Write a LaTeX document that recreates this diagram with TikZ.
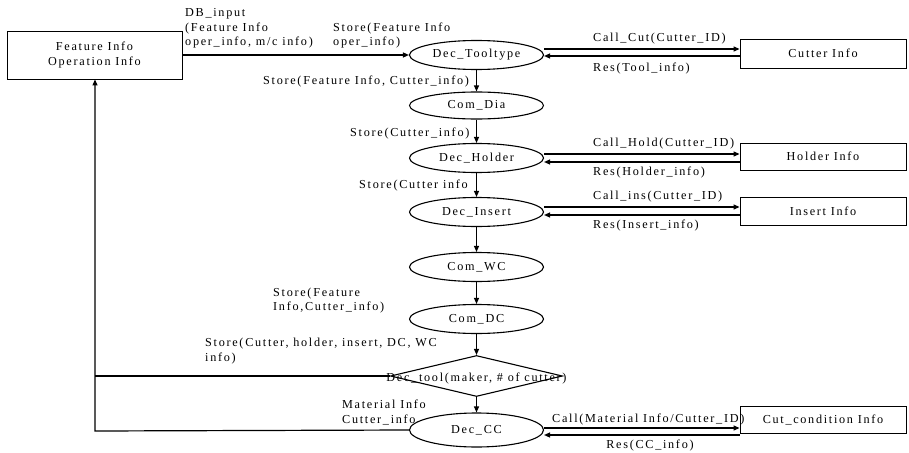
\documentclass[tikz,border=0pt]{standalone}
\usepackage{fontspec}
\setmainfont[LetterSpace=14]{Liberation Serif}
\usetikzlibrary{shapes.geometric,arrows.meta}
\begin{document}
\begin{tikzpicture}[x=1pt,y=-1pt,
  every node/.style={font=\fontsize{12.2}{14.5}\selectfont, inner sep=0pt},
  proc/.style={ellipse, draw, line width=1.1pt, minimum width=134pt, minimum height=29pt},
  store/.style={rectangle, draw, line width=0.9pt},
  flow/.style={line width=1.2pt, -{Triangle[length=6pt,width=5pt]}},
  lbl/.style={anchor=west, align=left}]
\useasboundingbox (0,0) rectangle (909,452);
% data stores
\node[store, minimum width=175pt, minimum height=48pt] (fi) at (94.5,55) {};
\node[align=center] at (fi) {Feature Info\\Operation Info};
\node[store, minimum width=166pt, minimum height=29pt] (ci) at (823,53.5) {};
\node at (ci) {Cutter Info};
\node[store, minimum width=166pt, minimum height=27pt] (hi) at (823,156.5) {};
\node at (hi) {Holder Info};
\node[store, minimum width=166pt, minimum height=28pt] (ii) at (823,211) {};
\node at (ii) {Insert Info};
\node[store, minimum width=166pt, minimum height=27pt] (cc) at (823,419.5) {};
\node at (cc) {Cut\_condition Info};
% processes
\node[proc] (tt) at (476.5,55) {Dec\_Tooltype};
\node[proc, minimum height=27pt] (dia) at (476.5,105.5) {Com\_Dia};
\node[proc] (hol) at (476.5,158) {Dec\_Holder};
\node[proc] (ins) at (476.5,212) {Dec\_Insert};
\node[proc] (wc) at (476.5,267) {Com\_WC};
\node[proc] (dc) at (476.5,319) {Com\_DC};
\node[diamond, draw, line width=1.1pt, minimum width=172pt, minimum height=41pt] (dt) at (476.5,376) {};
\node (dtl) at (476.5,378) {Dec\_tool(maker, \# of cutter)};
\node[proc, minimum height=34pt] (dcc) at (476.5,430) {Dec\_CC};
% corner coordinates
\coordinate (c1) at (95,376);
\coordinate (c2) at (95,431);
% main flow
\draw[flow] (fi.east) -- (tt.west);
\draw[flow] (tt) -- (dia);
\draw[flow] (dia) -- (hol);
\draw[flow] (hol) -- (ins);
\draw[flow] (ins) -- (wc);
\draw[flow] (wc) -- (dc);
\draw[flow] (dc) -- (dt);
\draw[flow] (dt) -- (dcc);
% feedback
\draw[line width=1.2pt] (dt.west) -- (c1);
\draw[flow] (dcc.west) -- (c2) -- (fi.south -| c2);
% calls
\draw[flow] ([yshift=6pt]tt.east) -- ([yshift=4.5pt]ci.west);
\draw[flow] ([yshift=-2.5pt]ci.west) -- ([yshift=-1pt]tt.east);
\draw[flow] ([yshift=4pt]hol.east) -- ([yshift=2.5pt]hi.west);
\draw[flow] ([yshift=-5.5pt]hi.west) -- ([yshift=-4pt]hol.east);
\draw[flow] ([yshift=5pt]ins.east) -- ([yshift=4pt]ii.west);
\draw[flow] ([yshift=-4pt]ii.west) -- ([yshift=-3pt]ins.east);
\draw[flow] ([yshift=2pt]dcc.east) -- ([yshift=-8.5pt]cc.west);
\draw[flow] ([yshift=-15.5pt]cc.west) -- ([yshift=-5pt]dcc.east);
% labels
\node[lbl] at (185,28.5) {DB\_input\\(Feature Info\\oper\_info, m/c info)};
\node[lbl] at (333,35.5) {Store(Feature Info\\oper\_info)};
\node[lbl] at (263,82) {Store(Feature Info, Cutter\_info)};
\node[lbl] at (350,134) {Store(Cutter\_info)};
\node[lbl] at (359,186) {Store(Cutter info};
\node[lbl] at (273,300.5) {Store(Feature\\Info,Cutter\_info)};
\node[lbl] at (205,351) {Store(Cutter, holder, insert, DC, WC\\info)};
\node[lbl] at (342,412.5) {Material Info\\Cutter\_info};
\node[lbl] at (593,39) {Call\_Cut(Cutter\_ID)};
\node[lbl] at (593,69) {Res(Tool\_info)};
\node[lbl] at (593,144) {Call\_Hold(Cutter\_ID)};
\node[lbl] at (593,173) {Res(Holder\_info)};
\node[lbl] at (593,197) {Call\_ins(Cutter\_ID)};
\node[lbl] at (593,226) {Res(Insert\_info)};
\node[lbl] at (552,419) {Call(Material Info/Cutter\_ID)};
\node at (650,445) {Res(CC\_info)};
\end{tikzpicture}
\end{document}
